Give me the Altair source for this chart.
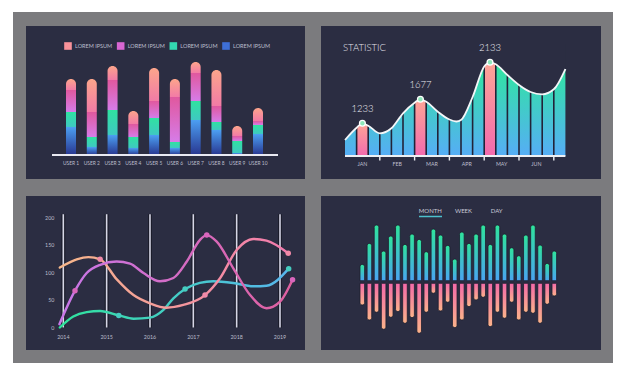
import altair as alt
import pandas as pd

NAVY = "#2b2d42"
GRAY = "#7b7b7e"
TXT = "#bdbecd"
FONT = "Lato"

# ---------------- data: panel 1 (stacked bars) ----------------
users = ["USER 1", "USER 2", "USER 3", "USER 4", "USER 5",
         "USER 6", "USER 7", "USER 8", "USER 9", "USER 10"]
blue_vals = [28, 8, 20, 7, 20, 7, 35, 25, 2, 21]
teal_vals = [15, 10, 25, 11, 17, 6, 19, 8, 12, 9]
violet_vals = [22, 25, 30, 13, 17, 45, 28, 16, 5, 4]
peach_vals = [11, 33, 14, 13, 33, 18, 11, 36, 10, 13]
legend_labels = ["LOREM IPSUM", "LOREM IPSUM", "LOREM IPSUM", "LOREM IPSUM"]
legend_keys = ["peach", "violet", "teal", "blue"]

# ---------------- data: panel 2 (statistic area) ----------------
curve_x = [0, 1, 1.5, 2, 3, 4, 5, 6, 6.5, 7, 8, 9, 9.6, 10, 11, 12, 12.5, 13, 14, 15, 16, 17, 18, 19]
curve_v = [16, 28.3, 32.7, 30.3, 22.7, 27.7, 42.7, 53.3, 56.7, 54.3, 44.3, 36.5, 34.5, 36, 59, 89.5, 93.7, 91.7, 81, 71, 64, 61.7, 66.7, 87]
peak_x = [1, 6, 12]
peak_v = [32.7, 56.7, 93.7]
peak_labels = ["1233", "1677", "2133"]
sep_x = [1, 2, 3, 4, 5, 6, 7, 8, 9, 10, 11, 12, 13, 14, 15, 16, 17, 18]
tick_x = [3, 6, 9, 12, 15, 18]
month_x = [1.5, 4.5, 7.5, 10.5, 13.5, 16.5]
months = ["JAN", "FEB", "MAR", "APR", "MAY", "JUN"]
title2 = ["STATISTIC"]

# ---------------- data: panel 3 (lines) ----------------
years = [2014, 2015, 2016, 2017, 2018, 2019]
y_ticks = [0, 50, 100, 150, 200]
peach_x = [2013.92, 2014.31, 2014.58, 2014.85, 2015.23, 2015.62, 2016.0, 2016.38, 2016.77, 2017.27, 2017.62, 2018.0, 2018.38, 2018.69, 2019.19]
peach_y = [109, 124, 128, 124, 88, 59, 44, 36, 41, 59, 90, 141, 161, 158, 135]
violet_x = [2013.91, 2014.27, 2014.54, 2014.85, 2015.23, 2015.54, 2015.85, 2016.23, 2016.54, 2016.85, 2017.15, 2017.31, 2017.54, 2017.92, 2018.31, 2018.69, 2019.0, 2019.29]
violet_y = [6, 67, 99, 114, 120, 116, 99, 84, 90, 120, 159, 168, 156, 108, 59, 35, 47, 87]
green_x = [2013.92, 2014.23, 2014.54, 2014.85, 2015.28, 2015.62, 2016.0, 2016.31, 2016.54, 2016.81, 2017.15, 2017.46, 2017.92, 2018.38, 2018.69, 2019.2]
green_y = [0, 20, 28, 30, 22, 16, 18, 32, 53, 70, 81, 84, 81, 75, 76, 107]
peach_dot_x = [2014.85, 2017.27, 2019.19]
peach_dot_y = [124, 59, 135]
violet_dot_x = [2014.27, 2017.31, 2019.29]
violet_dot_y = [67, 168, 87]
green_dot_x = [2015.28, 2016.81, 2019.2]
green_dot_y = [22, 70, 107]

# ---------------- data: panel 4 (mirrored bars) ----------------
bar_idx = list(range(1, 29))
up_vals = [16.3, 37.3, 55.7, 29.7, 44.7, 55.7, 36.3, 46.7, 41.3, 29, 51.7, 45.7, 35.3, 21.7,
           48.7, 37.3, 46.7, 55.7, 36.3, 55.7, 46.7, 33, 25, 45.7, 55.7, 35.7, 17.3, 29.7]
down_vals = [21.7, 36.7, 29, 46, 34, 28.3, 40, 34.3, 50, 29, 10, 27.7, 19, 44.3,
             36.7, 23.3, 16.7, 14, 43.3, 29, 35, 19, 36.7, 29, 30, 40, 21, 12.7]
tabs = ["MONTH", "WEEK", "DAY"]


def vgrad(top, bottom):
    return alt.Gradient(gradient="linear",
                        stops=[alt.GradientStop(color=top, offset=0),
                               alt.GradientStop(color=bottom, offset=1)],
                        x1=0, x2=0, y1=0, y2=1)


def hgrad(left, right):
    return alt.Gradient(gradient="linear",
                        stops=[alt.GradientStop(color=left, offset=0),
                               alt.GradientStop(color=right, offset=1)],
                        x1=0, x2=1, y1=0, y2=0)


def yd(v):
    return alt.YDatum(datum=v, axis=None)


def xd(v):
    return alt.XDatum(datum=v, axis=None)


one = pd.DataFrame({"k": [0]})

# ================= PANEL 1 =================
rows = []
for i, u in enumerate(users):
    for o, (name, vals) in enumerate([("blue", blue_vals), ("teal", teal_vals),
                                      ("violet", violet_vals), ("peach", peach_vals)]):
        rows.append(dict(idx=i, user=u, series=name, order=o, value=vals[i]))
df1 = pd.DataFrame(rows)
X1 = alt.Scale(domain=[0, 9], range=[40, 237])
Y1 = alt.Scale(domain=[0, 100], range=[129, 29])
stacked = alt.Chart(df1).transform_stack(
    stack="value", groupby=["idx"], as_=["y0", "y1"],
    sort=[alt.SortField("order", order="ascending")])
seg_grads = {
    "blue": vgrad("#4c9ff2", "#283690"),
    "teal": vgrad("#30e2a0", "#3fc8c2"),
    "violet": vgrad("#e0589e", "#d67ce8"),
    "peach": vgrad("#fca58b", "#f27ba6"),
}
frame = alt.Chart(one).mark_rect(color=GRAY).encode(
    x=alt.value(-13), x2=alt.value(587), y=alt.value(-14), y2=alt.value(337))
panel_bg = alt.Chart(one).mark_rect(color=NAVY).encode(
    x=alt.value(0), x2=alt.value(279), y=alt.value(0), y2=alt.value(153))
bar_layers = []
for name in ["blue", "teal", "violet", "peach"]:
    extra = dict(cornerRadiusTopLeft=5, cornerRadiusTopRight=5) if name == "peach" else {}
    bar_layers.append(
        stacked.transform_filter(alt.datum.series == name)
        .mark_bar(size=10, color=seg_grads[name], **extra)
        .encode(x=alt.X("idx:Q", scale=X1, axis=None),
                y=alt.Y("y1:Q", scale=Y1, axis=None),
                y2="y0:Q"))
base_rule1 = alt.Chart(one).mark_rule(color="#e9e9f2", strokeWidth=2).encode(
    x=alt.value(26), x2=alt.value(252), y=alt.YDatum(datum=0, scale=Y1, axis=None))
user_text = alt.Chart(pd.DataFrame({"idx": list(range(10)), "user": users})).mark_text(
    font=FONT, fontSize=4.9, color=TXT, baseline="middle").encode(
    x=alt.X("idx:Q", scale=X1, axis=None), y=yd(-8.5), text="user:N")
leg_df = pd.DataFrame({"i": [0, 1, 2, 3], "key": legend_keys, "label": legend_labels})
XL = alt.Scale(domain=[0, 3], range=[42, 200])
leg_sq = alt.Chart(leg_df).mark_square(size=58, opacity=1).encode(
    x=alt.X("i:Q", scale=XL, axis=None), y=yd(109),
    color=alt.Color("key:N", scale=alt.Scale(domain=legend_keys,
                    range=["#f8929a", "#d866d2", "#33d9b0", "#3e6fd6"]), legend=None))
leg_tx = alt.Chart(leg_df).mark_text(font=FONT, fontSize=5.5, color=TXT, align="left",
                                     baseline="middle", dx=7).encode(
    x=alt.X("i:Q", scale=XL, axis=None), y=yd(109), text="label:N")
p1 = alt.layer(
    alt.layer(frame, panel_bg, *bar_layers, base_rule1, user_text),
    alt.layer(leg_sq, leg_tx),
).resolve_scale(x="independent", color="independent").properties(width=279, height=153)

# ================= PANEL 2 =================
X2 = alt.Scale(domain=[0, 19], range=[24, 256])
Y2 = alt.Scale(domain=[0, 100], range=[130, 30])
cdf = pd.DataFrame({"x": curve_x, "v": curve_v})
cx = alt.X("x:Q", scale=X2, axis=None)
cy = alt.Y("v:Q", scale=Y2, axis=None)
area = alt.Chart(cdf).mark_area(interpolate="monotone", color=vgrad("#2ee89d", "#56adf6")).encode(
    x=cx, y=cy, y2=alt.datum(0))
pdf = pd.DataFrame({"x": peak_x, "v": peak_v, "label": peak_labels})
pink = alt.Chart(pdf).transform_calculate(x2="datum.x + 1").mark_rect(
    color=vgrad("#fda596", "#f36aae")).encode(x=cx, x2="x2:Q", y=cy, y2=alt.datum(0))
seps = alt.Chart(pd.DataFrame({"x": sep_x})).mark_rule(color="#222338", strokeWidth=1.6).encode(
    x=cx, y=yd(0), y2=alt.datum(100))
mask = alt.Chart(cdf).mark_area(interpolate="monotone", color=NAVY).encode(
    x=cx, y=cy, y2=alt.datum(112))
cline = alt.Chart(cdf).mark_line(interpolate="monotone", color="#f4f6f8", strokeWidth=1.8).encode(
    x=cx, y=cy)
base2 = alt.Chart(one).mark_rule(color="#eef0f4", strokeWidth=2).encode(
    x=xd(0), x2=alt.datum(19), y=yd(0))
ticks2 = alt.Chart(pd.DataFrame({"x": tick_x})).mark_rule(color="#eef0f4", strokeWidth=1.4).encode(
    x=cx, y=yd(0), y2=alt.datum(-4.5))
month_text = alt.Chart(pd.DataFrame({"x": month_x, "m": months})).mark_text(
    font=FONT, fontSize=5.3, color=TXT, baseline="middle").encode(x=cx, y=yd(-8), text="m:N")
dots2 = alt.Chart(pdf).transform_calculate(xc="datum.x + 0.5").mark_circle(
    size=34, color="#8ee8ba", stroke="white", strokeWidth=1.3, opacity=1).encode(
    x=alt.X("xc:Q", scale=X2, axis=None), y=cy)
labels2 = alt.Chart(pdf).transform_calculate(xc="datum.x + 0.5").mark_text(
    font=FONT, fontSize=9.5, fontWeight=300, color="#ececf4", dy=-14, baseline="middle").encode(
    x=alt.X("xc:Q", scale=X2, axis=None), y=cy, text="label:N")
title_mark = alt.Chart(pd.DataFrame({"t": title2})).mark_text(
    font=FONT, fontSize=9.5, fontWeight=300, color="#e6e6ee", align="left", baseline="middle").encode(
    x=alt.value(22), y=alt.value(22), text="t:N")
p2 = alt.layer(area, pink, seps, mask, cline, base2, ticks2, month_text, dots2, labels2,
               title_mark).properties(width=280, height=153)

# ================= PANEL 3 =================
X3 = alt.Scale(domain=[2014, 2019], range=[37.3, 254])
Y3 = alt.Scale(domain=[0, 200], range=[131.5, 21.5])
ydf = pd.DataFrame({"yr": years, "lab": [str(y) for y in years]})
vx = alt.X("yr:Q", scale=X3, axis=None)
vl_dark = alt.Chart(ydf).mark_rule(color="#1b1c2b", strokeWidth=4).encode(
    x=vx, y=alt.YDatum(datum=0, scale=Y3, axis=None), y2=alt.datum(206))
vl_light = alt.Chart(ydf).mark_rule(color="#d6d6e6", strokeWidth=1.6).encode(
    x=vx, y=yd(0), y2=alt.datum(206))
year_text = alt.Chart(ydf).mark_text(font=FONT, fontSize=5.3, color=TXT, dy=9.5,
                                     baseline="middle").encode(x=vx, y=yd(0), text="lab:N")
ytick_text = alt.Chart(pd.DataFrame({"v": y_ticks})).mark_text(
    font=FONT, fontSize=5.3, color=TXT, align="right", baseline="middle", dx=-9).encode(
    x=alt.XDatum(datum=2014, scale=X3, axis=None),
    y=alt.Y("v:Q", scale=Y3, axis=None), text="v:Q")


def line_layer(xs, ys, g):
    return alt.Chart(pd.DataFrame({"x": xs, "y": ys})).mark_line(
        interpolate="monotone", stroke=g, strokeWidth=2.4, strokeCap="round").encode(
        x=alt.X("x:Q", scale=X3, axis=None), y=alt.Y("y:Q", scale=Y3, axis=None))


def dot_layer(xs, ys, c):
    return alt.Chart(pd.DataFrame({"x": xs, "y": ys})).mark_circle(
        size=30, color=c, opacity=1).encode(
        x=alt.X("x:Q", scale=X3, axis=None), y=alt.Y("y:Q", scale=Y3, axis=None))


p3 = alt.layer(
    vl_dark, vl_light, year_text, ytick_text,
    line_layer(green_x, green_y, hgrad("#2fe39c", "#58b6ee")),
    line_layer(peach_x, peach_y, hgrad("#f7b78a", "#f27aae")),
    line_layer(violet_x, violet_y, hgrad("#c878ea", "#e0609f")),
    dot_layer(green_dot_x, green_dot_y, "#45cdc0"),
    dot_layer(peach_dot_x, peach_dot_y, "#f18aa8"),
    dot_layer(violet_dot_x, violet_dot_y, "#d966bd"),
).properties(width=279, height=154)

# ================= PANEL 4 =================
X4 = alt.Scale(domain=[1, 28], range=[36.3, 238.3])
Y4 = alt.Scale(domain=[-60, 60], range=[146, 26])
bdf = pd.DataFrame({"i": bar_idx, "up": up_vals, "down": down_vals})
bx = alt.X("i:Q", scale=X4, axis=None)
up_bars = alt.Chart(bdf).transform_calculate(top="datum.up + 1.3").mark_bar(
    size=4.6, color=vgrad("#2fe39c", "#4aa4f2"), stroke="#1d1e2e", strokeWidth=0.8,
    cornerRadiusTopLeft=2.3, cornerRadiusTopRight=2.3).encode(
    x=bx, y=alt.Y("top:Q", scale=Y4, axis=None), y2=alt.datum(1.3))
down_bars = alt.Chart(bdf).transform_calculate(bot="-datum.down - 1.3").mark_bar(
    size=4.6, color=vgrad("#f46aa9", "#fbb38a"), stroke="#1d1e2e", strokeWidth=0.8,
    cornerRadiusBottomLeft=2.3, cornerRadiusBottomRight=2.3).encode(
    x=bx, y=alt.Y("bot:Q", scale=Y4, axis=None), y2=alt.datum(-1.3))
tdf = pd.DataFrame({"t": [0, 1, 2], "tab": tabs})
XT = alt.Scale(domain=[0, 2], range=[109.3, 175.7])
tab_text = alt.Chart(tdf).mark_text(font=FONT, fontSize=6, color="#c8c9d6", baseline="middle").encode(
    x=alt.X("t:Q", scale=XT, axis=None), y=alt.value(15), text="tab:N")
underline = alt.Chart(one).mark_rule(color="#4cc0cc", strokeWidth=1.5).encode(
    x=alt.value(98), x2=alt.value(121), y=alt.value(20.5))
p4 = alt.layer(
    alt.layer(up_bars, down_bars),
    alt.layer(tab_text, underline),
).resolve_scale(x="independent").properties(width=280, height=154)

chart = alt.concat(
    p1, p2, p3, p4, columns=2, spacing={"row": 17, "column": 16},
    bounds="flush", align="each",
).properties(
    background="white",
    padding={"left": 13, "top": 12, "right": 13, "bottom": 13},
).configure_view(fill=NAVY, stroke=None)

chart.save("out.html", embed_options={"renderer": "svg", "actions": False})
